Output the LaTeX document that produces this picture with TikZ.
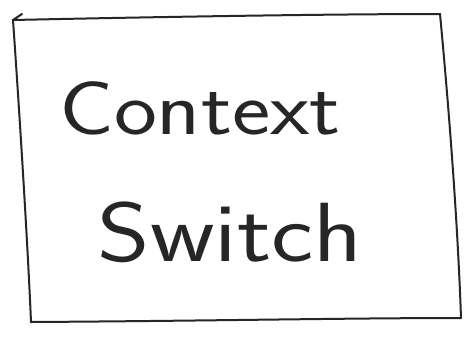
\documentclass[tikz,border=0pt]{standalone}
\begin{document}
\begin{tikzpicture}[x=1pt,y=-1pt,
  ink/.style={line width=2pt,black!85,line join=round,line cap=round},
  lbl/.style={font=\fontsize{76}{80}\selectfont\sffamily,text=black!85,inner sep=0pt,xscale=1.2}]
\useasboundingbox[fill=white] (0,0) rectangle (471,341);
\coordinate (tl) at (13,20);
\coordinate (tr) at (440,14);
\coordinate (br) at (461,318);
\coordinate (bl) at (31,322);
\draw[ink] (22,14) -- (13,20) .. controls (200,16) and (350,14) .. (tr);
\draw[ink] (tl) .. controls (20,120) and (28,250) .. (bl);
\draw[ink] (tr) .. controls (450,120) and (458,230) .. (br);
\draw[ink] (bl) .. controls (200,321) and (350,318) .. (br);
\node[lbl] (c) at (200,108) {Context};
\node[lbl,font=\fontsize{84}{88}\selectfont\sffamily] (s) at (230,232) {Switch};
\end{tikzpicture}
\end{document}
